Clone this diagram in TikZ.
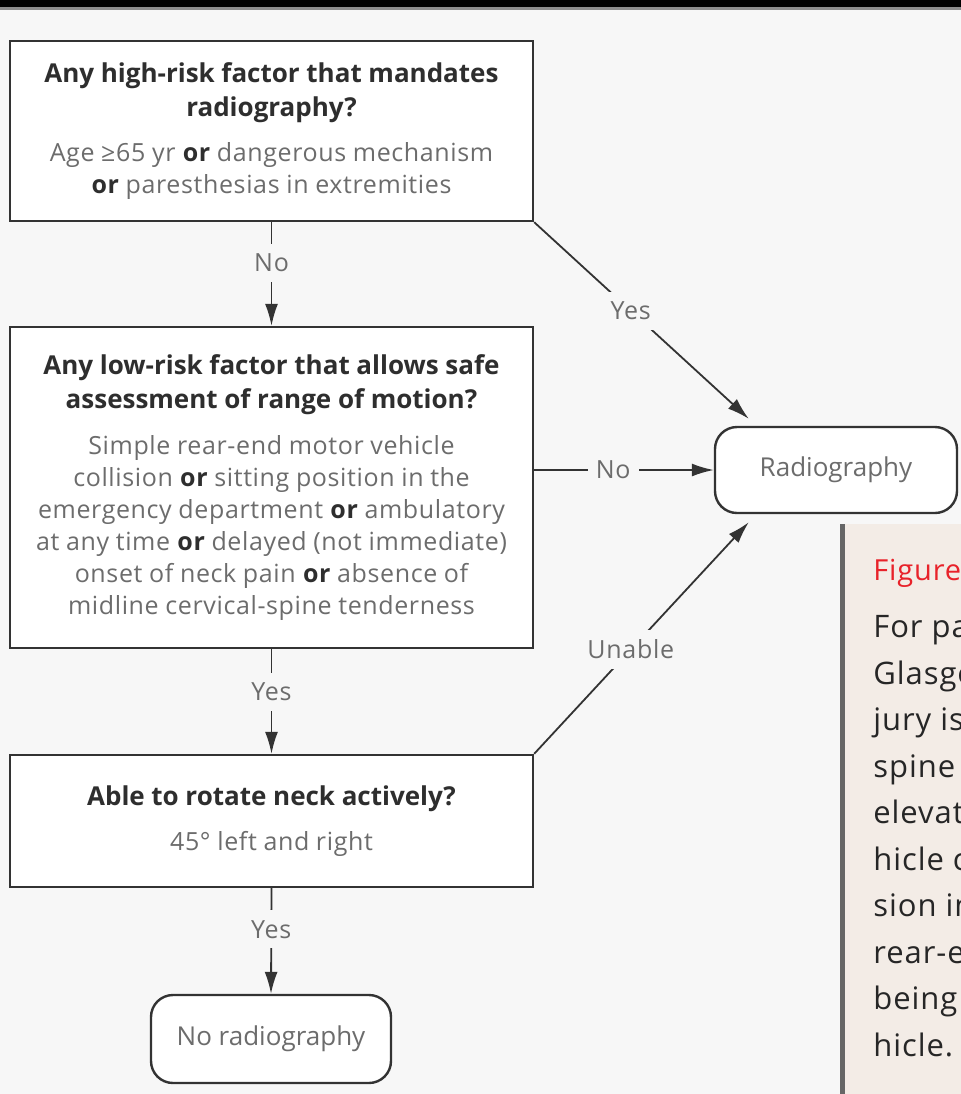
\documentclass[tikz,border=0pt]{standalone}
\usepackage{fontspec}
\setmainfont{Open Sans}
\newfontfamily\notefont[LetterSpace=2.5]{Open Sans}
\newfontfamily\labelfont[LetterSpace=3]{Open Sans}
\usetikzlibrary{arrows.meta,calc}

\definecolor{pagebg}{HTML}{F7F7F7}
\definecolor{boxline}{HTML}{333333}
\definecolor{greytext}{HTML}{6C6C6C}
\definecolor{darktext}{HTML}{2E2E2E}
\definecolor{capbg}{HTML}{F3ECE6}
\definecolor{capbar}{HTML}{666666}
\definecolor{capred}{HTML}{E8222A}

\newcommand{\OR}{\textbf{\color{darktext}or}}
\newcommand{\qtitle}[1]{{\fontsize{13}{16.75}\selectfont\bfseries\color{darktext}#1\par}}
\newcommand{\qnote}[2][6.5pt]{\vspace{#1}{\notefont\fontsize{12.5}{16}\selectfont\color{greytext}#2\par}}

\tikzset{
  question/.style={draw=boxline, line width=1.2pt, fill=white,
    minimum width=261.5pt, text width=255pt, align=center, inner sep=0pt},
  outcome/.style={draw=boxline, line width=1.2pt, fill=white, rounded corners=11pt,
    text=greytext, font=\fontsize{13}{15}\selectfont, inner sep=0pt},
  flow/.style={draw=boxline, line width=0.9pt, -{Latex[length=11pt,width=6.5pt]}},
  answer/.style={fill=pagebg, text=greytext, font=\labelfont\fontsize{12.5}{14}\selectfont,
    inner xsep=4pt, inner ysep=5pt},
  captext/.style={anchor=base west, text=black!85, font=\labelfont\fontsize{15.5}{18}\selectfont, inner sep=0pt},
}

\begin{document}
\begin{tikzpicture}[x=0.5pt,y=0.5pt,yscale=-1,xscale=1]
\useasboundingbox (0,0) rectangle (961,1094);

% background and top bar
\fill[pagebg] (0,0) rectangle (961,1094);
\fill[black] (0,0) rectangle (961,7);
\fill[black!45] (0,7) rectangle (961,10);

% Question boxes
\node[question, minimum height=90pt] (highrisk) at (271.5,131)
  {\qtitle{Any high-risk factor that mandates\\ radiography?}
   \qnote{Age ≥65 yr \OR{} dangerous mechanism\\ \OR{} paresthesias in extremities}};
\node[question, minimum height=160.5pt] (lowrisk) at (271.5,487.5)
  {\qtitle{Any low-risk factor that allows safe\\ assessment of range of motion?}
   \qnote[7pt]{Simple rear-end motor vehicle\\ collision \OR{} sitting position in the\\
   emergency department \OR{} ambulatory\\ at any time \OR{} delayed (not immediate)\\
   onset of neck pain \OR{} absence of\\ midline cervical-spine tenderness}};
\node[question, minimum height=66pt] (rotate) at (271.5,821)
  {\qtitle{Able to rotate neck actively?}
   \qnote{45° left and right}};

% Outcome boxes
\node[outcome, minimum width=121pt, minimum height=43pt] (radio) at (836,470) {Radiography};
\node[outcome, minimum width=120pt, minimum height=44pt] (noradio) at (271,1039) {No radiography};

% Connectors
\draw[flow] (highrisk.south) -- node[answer, pos=0.39] {No} (lowrisk.north);
\draw[flow] (lowrisk.south) -- node[answer, pos=0.41] {Yes} (rotate.north);
\draw[flow] (rotate.south) -- node[answer, pos=0.39] {Yes} (noradio.north);
\draw[flow] (highrisk.south east) -- node[answer, pos=0.45] {Yes} ($(radio.north west)+(35,-7)$);
\draw[flow] (radio.west -| lowrisk.east) -- node[answer, pos=0.44] {No} (radio.west);
\draw[flow] (rotate.north east) -- node[answer, pos=0.45] {Unable} ($(radio.south west)+(35,8)$);

% Caption panel, cut at the right edge
\begin{scope}
\clip (840,524) rectangle (961,1094);
\fill[capbg] (840,524) rectangle (961,1094);
\fill[capbar] (840,524) rectangle (845,1094);
\node[captext, text=capred, font=\labelfont\fontsize{14.5}{17}\selectfont] (capfig) at (873,580) {Figure};
\foreach \capline [count=\i from 0] in {For pa, Glasgo, jury is, spine, elevat, hicle c, sion in, rear-e, being, hicle.}
  \node[captext] (cap\i) at (873,637.5+46.5*\i) {\capline};
\end{scope}

\end{tikzpicture}
\end{document}
